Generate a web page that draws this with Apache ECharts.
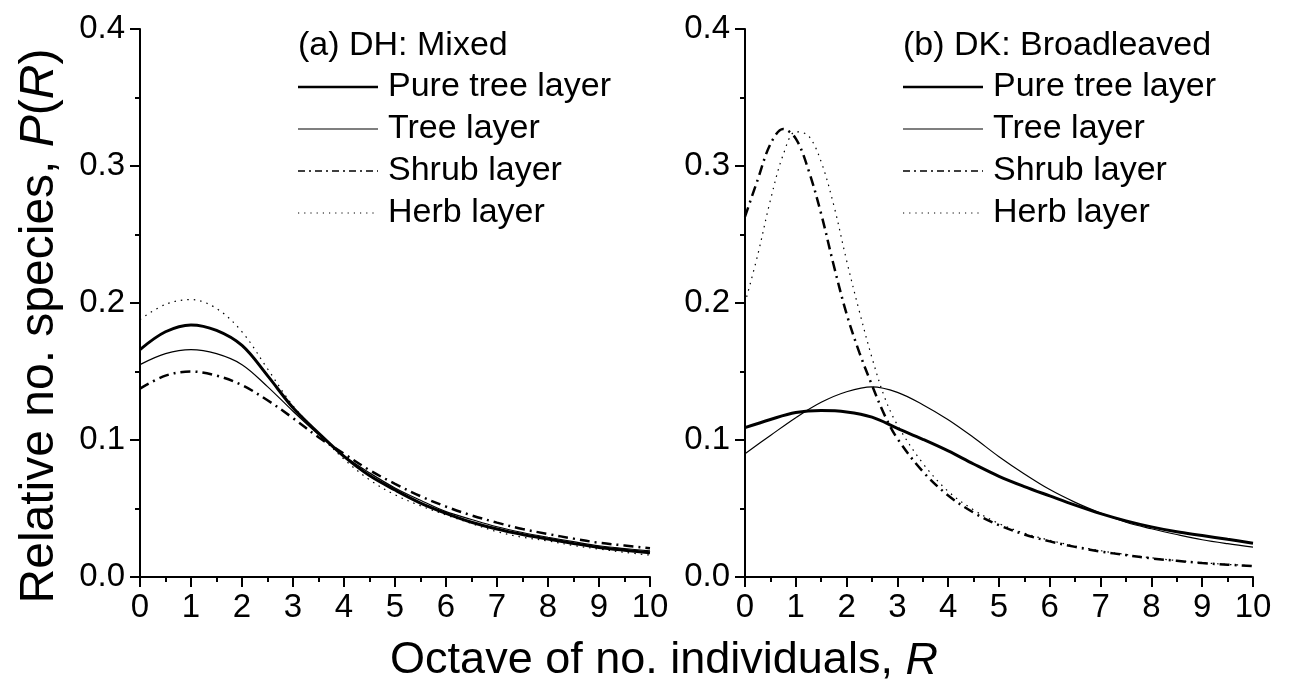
<!DOCTYPE html>
<html>
<head>
<meta charset="utf-8">
<script src="https://cdn.jsdelivr.net/npm/echarts@6/dist/echarts.min.js"></script>
<style>
  html, body { margin: 0; padding: 0; background: #fff; }
  #chart { width: 1297px; height: 694px; }
</style>
</head>
<body>
<div id="chart"></div>
<script>
var seriesNames = ['Pure tree layer', 'Tree layer', 'Shrub layer', 'Herb layer'];

// (a) DH: Mixed, octaves 0..10 step 0.5
var rA = [0, 0.5, 1, 1.5, 2, 2.5, 3, 3.5, 4, 4.5, 5, 5.5, 6, 6.5, 7, 7.5, 8, 8.5, 9, 9.5, 10];
var pureA  = [0.166, 0.179, 0.184, 0.180, 0.169, 0.147, 0.1235, 0.105, 0.088, 0.074, 0.0635, 0.054, 0.0465, 0.040, 0.035, 0.031, 0.0277, 0.0245, 0.0216, 0.0195, 0.0177];
var treeA  = [0.155, 0.163, 0.166, 0.163, 0.155, 0.139, 0.121, 0.104, 0.0885, 0.076, 0.065, 0.056, 0.0477, 0.042, 0.0367, 0.0325, 0.029, 0.0258, 0.0228, 0.0208, 0.019];
var shrubA = [0.1375, 0.147, 0.150, 0.147, 0.140, 0.129, 0.116, 0.102, 0.090, 0.078, 0.068, 0.059, 0.0514, 0.045, 0.0397, 0.035, 0.0314, 0.028, 0.025, 0.023, 0.021];
var herbA  = [0.188, 0.199, 0.2025, 0.196, 0.179, 0.152, 0.125, 0.105, 0.086, 0.071, 0.060, 0.052, 0.0453, 0.039, 0.0331, 0.029, 0.0263, 0.023, 0.0204, 0.018, 0.016];

// (b) DK: Broadleaved
var rB = [0, 0.5, 1, 1.5, 2, 2.5, 3, 3.5, 4, 4.5, 5, 5.5, 6, 6.5, 7, 7.5, 8, 8.5, 9, 9.5, 10];
var pureB  = [0.109, 0.115, 0.120, 0.1215, 0.1205, 0.1167, 0.1085, 0.1005, 0.092, 0.0825, 0.0735, 0.066, 0.0592, 0.0525, 0.0463, 0.041, 0.0366, 0.033, 0.0303, 0.0275, 0.0247];
var treeB  = [0.090, 0.1033, 0.1163, 0.1275, 0.1352, 0.1388, 0.1348, 0.1258, 0.1148, 0.1018, 0.0878, 0.0752, 0.0638, 0.0545, 0.0467, 0.040, 0.0352, 0.031, 0.0272, 0.0243, 0.0218];
var rPeak  = [0, 0.25, 0.5, 0.75, 1, 1.25, 1.5, 1.75, 2, 2.25, 2.5, 2.75, 3, 3.5, 4, 4.5, 5, 5.5, 6, 6.5, 7, 7.5, 8, 8.5, 9, 9.5, 10];
var shrubB = [0.263, 0.290, 0.316, 0.327, 0.320, 0.297, 0.265, 0.227, 0.192, 0.164, 0.140, 0.118, 0.101, 0.077, 0.0595, 0.047, 0.0378, 0.031, 0.026, 0.022, 0.0186, 0.016, 0.0136, 0.0118, 0.0102, 0.009, 0.008];
var herbB  = [0.200, 0.235, 0.275, 0.308, 0.325, 0.322, 0.303, 0.271, 0.231, 0.194, 0.160, 0.131, 0.111, 0.083, 0.0625, 0.049, 0.039, 0.032, 0.0268, 0.0226, 0.0192, 0.0164, 0.014, 0.012, 0.0104, 0.0092, 0.0082];

var xTicks = ['0', '1', '2', '3', '4', '5', '6', '7', '8', '9', '10'];
var yTicks = ['0.0', '0.1', '0.2', '0.3', '0.4'];

function pairs(xs, ys) {
    return xs.map(function (x, i) { return [x, ys[i]]; });
}

// curve styles, then the smaller legend-key styles
var styles = [
    { width: 3, type: 'solid' },
    { width: 1.2, type: 'solid' },
    { width: 2.5, type: [10, 5, 2, 5] },
    { width: 1.2, type: [1.5, 5] }
];
var keyStyles = [
    { width: 2.5, dash: null },
    { width: 1.2, dash: null },
    { width: 1.6, dash: [7, 4, 2, 4] },
    { width: 1, dash: [1.2, 5] }
];

var FONT = 'Liberation Sans, Arial, sans-serif';

function makeX(idx) {
    return {
        type: 'value', gridIndex: idx, min: 0, max: 10, interval: 1,
        axisLine: { lineStyle: { color: '#000', width: 2 } },
        axisTick: { length: 10, lineStyle: { color: '#000', width: 2 } },
        minorTick: { show: true, splitNumber: 2, length: 5, lineStyle: { color: '#000', width: 2 } },
        splitLine: { show: false },
        axisLabel: { color: '#000', fontSize: 33, fontFamily: FONT, margin: 14,
            formatter: function (v) { return xTicks[Math.round(v)]; } }
    };
}

function makeY(idx) {
    return {
        type: 'value', gridIndex: idx, min: 0, max: 0.4, interval: 0.1,
        axisLine: { show: true, lineStyle: { color: '#000', width: 2 } },
        axisTick: { show: true, length: 10, lineStyle: { color: '#000', width: 2 } },
        minorTick: { show: true, splitNumber: 2, length: 5, lineStyle: { color: '#000', width: 2 } },
        splitLine: { show: false },
        axisLabel: { color: '#000', fontSize: 33, fontFamily: FONT, margin: 15,
            formatter: function (v) { return yTicks[Math.round(v * 10)]; } }
    };
}

var dataA = [pairs(rA, pureA), pairs(rA, treeA), pairs(rA, shrubA), pairs(rA, herbA)];
var dataB = [pairs(rB, pureB), pairs(rB, treeB), pairs(rPeak, shrubB), pairs(rPeak, herbB)];

var series = [];
[dataA, dataB].forEach(function (set, g) {
    set.forEach(function (d, i) {
        series.push({
            name: seriesNames[i], type: 'line', xAxisIndex: g, yAxisIndex: g,
            data: d, smooth: 0.35, symbol: 'none', showSymbol: false,
            lineStyle: { color: '#000', width: styles[i].width, type: styles[i].type },
            emphasis: { disabled: true }
        });
    });
});

// hand-drawn legend keys for each panel
var graphics = [];
function addLegend(x0, title) {
    graphics.push({
        type: 'text', x: x0, y: 46,
        style: { text: title, font: '34px ' + FONT, fill: '#000', textVerticalAlign: 'middle' }
    });
    seriesNames.forEach(function (name, i) {
        var y = 87 + i * 42;
        graphics.push({
            type: 'line', shape: { x1: x0, y1: y, x2: x0 + 80, y2: y },
            style: { stroke: '#000', lineWidth: keyStyles[i].width, lineDash: keyStyles[i].dash }
        });
        graphics.push({
            type: 'text', x: x0 + 90, y: y,
            style: { text: name, font: '34px ' + FONT, fill: '#000', textVerticalAlign: 'middle' }
        });
    });
}
addLegend(298, '(a) DH: Mixed');
addLegend(903, '(b) DK: Broadleaved');

graphics.push({
    type: 'text', x: 664, y: 661,
    style: {
        text: '{n|Octave of no. individuals, }{i|R}',
        textAlign: 'center', textVerticalAlign: 'middle',
        rich: {
            n: { fontSize: 45, fontFamily: FONT, fill: '#000' },
            i: { fontSize: 45, fontFamily: FONT, fill: '#000', fontStyle: 'italic' }
        }
    }
});
graphics.push({
    type: 'text', x: 40, y: 326, rotation: Math.PI / 2,
    style: {
        text: '{n|Relative no. species, }{i|P}{n|(}{i|R}{n|)}',
        textAlign: 'center', textVerticalAlign: 'middle',
        rich: {
            n: { fontSize: 48, fontFamily: FONT, fill: '#000' },
            i: { fontSize: 48, fontFamily: FONT, fill: '#000', fontStyle: 'italic' }
        }
    }
});

var option = {
    backgroundColor: '#fff',
    animation: false,
    grid: [
        { left: 140, top: 29, width: 510, height: 548 },
        { left: 745, top: 29, width: 508, height: 548 }
    ],
    xAxis: [makeX(0), makeX(1)],
    yAxis: [makeY(0), makeY(1)],
    graphic: graphics,
    series: series
};

var myChart = echarts.init(document.getElementById('chart'));
myChart.setOption(option);
</script>
</body>
</html>
